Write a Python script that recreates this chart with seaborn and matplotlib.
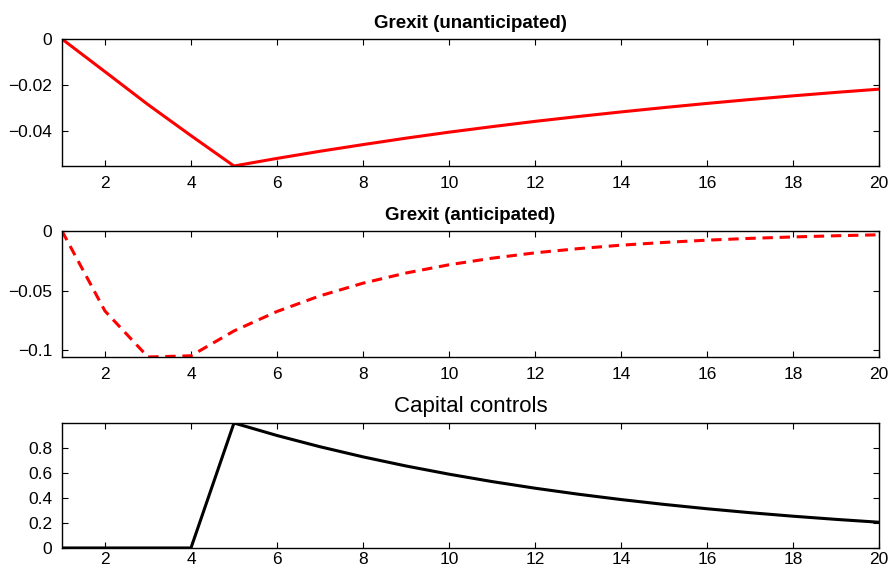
import pandas as pd
import matplotlib.pyplot as plt
import seaborn as sns

# Quarters after the shock
periods = list(range(1, 21))

# Grexit (unanticipated) response
unanticipated = [0.0, -0.0142, -0.0285, -0.0420, -0.0552, -0.0519, -0.0488, -0.0459,
                 -0.0431, -0.0405, -0.0381, -0.0358, -0.0337, -0.0317, -0.0298,
                 -0.0280, -0.0263, -0.0247, -0.0232, -0.0218]

# Grexit (anticipated) response
anticipated = [0.0, -0.0670, -0.1055, -0.1045, -0.0837, -0.0674, -0.0543, -0.0437,
               -0.0352, -0.0283, -0.0228, -0.0183, -0.0148, -0.0119, -0.0096,
               -0.0077, -0.0062, -0.0050, -0.0040, -0.0032]

# Capital controls path
capital = [0.0, 0.0, 0.0, 0.0, 1.0, 0.9, 0.81, 0.729, 0.6561, 0.5905, 0.5314,
           0.4783, 0.4305, 0.3874, 0.3487, 0.3138, 0.2824, 0.2542, 0.2288, 0.2059]

xticks = list(range(2, 21, 2))

sns.set_style('ticks')
plt.rcParams['font.family'] = ['Liberation Sans', 'DejaVu Sans']
plt.rcParams['axes.unicode_minus'] = True

fig = plt.figure(figsize=(8.89, 5.72), dpi=100)
left, width = 0.0697, 0.9191
ax1 = fig.add_axes([left, 0.7098, width, 0.2220])
ax2 = fig.add_axes([left, 0.3759, width, 0.2203])
ax3 = fig.add_axes([left, 0.0420, width, 0.2185])

df = pd.DataFrame({'t': periods, 'unant': unanticipated, 'ant': anticipated, 'cap': capital})

sns.lineplot(data=df, x='t', y='unant', ax=ax1, color='red', linewidth=2.2)
sns.lineplot(data=df, x='t', y='ant', ax=ax2, color='red', linewidth=2.2)
ax2.lines[0].set_dashes([3.4, 2.2])
sns.lineplot(data=df, x='t', y='cap', ax=ax3, color='black', linewidth=2.2)

ax1.set_ylim(-0.0552, 0)
ax1.set_yticks([-0.04, -0.02, 0])
ax1.set_yticklabels(['\u22120.04', '\u22120.02', '0'])
ax1.set_title('Grexit (unanticipated)', fontweight='bold', fontsize=13.5,
              color='black', pad=8)

ax2.set_ylim(-0.1055, 0)
ax2.set_yticks([-0.1, -0.05, 0])
ax2.set_yticklabels(['\u22120.1', '\u22120.05', '0'])
ax2.set_title('Grexit (anticipated)', fontweight='bold', fontsize=13.5,
              color='black', pad=8)

ax3.set_ylim(0, 1)
ax3.set_yticks([0, 0.2, 0.4, 0.6, 0.8])
ax3.set_yticklabels(['0', '0.2', '0.4', '0.6', '0.8'])
ax3.set_title('Capital controls', fontsize=16, color='black', pad=8)

for ax in (ax1, ax2, ax3):
    ax.set_xlim(1, 20)
    ax.set_xticks(xticks)
    ax.set_xlabel('')
    ax.set_ylabel('')
    ax.tick_params(direction='in', top=True, right=True, length=4, width=0.8,
                   labelsize=12.5, colors='black', pad=7)
    for s in ax.spines.values():
        s.set_visible(True)
        s.set_linewidth(1.0)
        s.set_color('black')
    ax.set_facecolor('white')

# keep the bottom tick labels inside the canvas
ax3.tick_params(axis='x', pad=3)

fig.savefig('out.png', dpi=100)
